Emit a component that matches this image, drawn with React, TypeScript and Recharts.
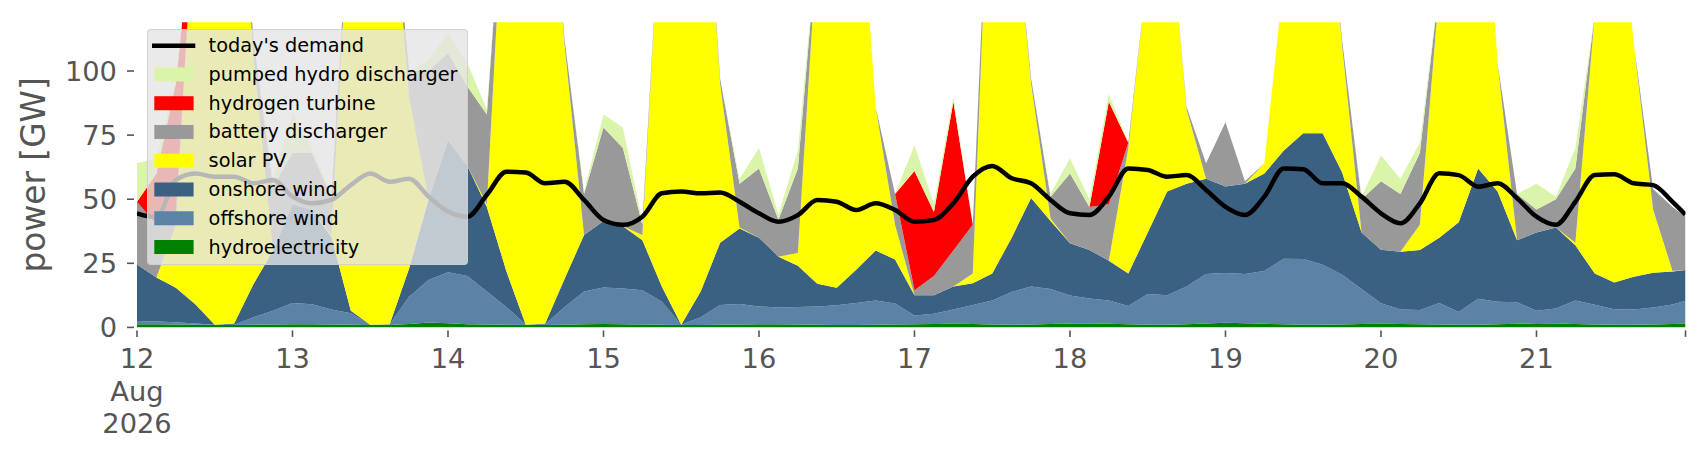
import { Area, ComposedChart, Line, XAxis, YAxis } from 'recharts'

// hours since 12 Aug 00:00, sampled every 3 h, last point 21 Aug 23:00
const HOURS = [...Array.from({ length: 80 }, (_, k) => k * 3), 239]
const DAY_TICKS = [0, 24, 48, 72, 96, 120, 144, 168, 192, 216]
const DAY_LABELS = ['12', '13', '14', '15', '16', '17', '18', '19', '20', '21']
const AXIS_TICKS = [...DAY_TICKS, 239]
const POWER_TICKS = [0, 25, 50, 75, 100]

// GW
const HYDRO = [
  1.2, 1.2, 1.1, 1.0, 0.9, 0.9, 1.0, 1.1, 1.2, 1.2, 1.1, 1.0, 0.9, 0.9, 1.3, 1.9,
  1.6, 1.2, 1.1, 1.0, 0.9, 0.9, 1.0, 1.2, 1.3, 1.2, 1.1, 1.0, 0.9, 0.9, 1.0, 1.1,
  1.2, 1.2, 1.1, 1.0, 0.9, 0.9, 1.0, 1.1, 1.2, 1.3, 1.4, 1.3, 1.1, 1.0, 1.1, 1.3,
  1.5, 1.5, 1.4, 1.2, 1.0, 1.0, 1.2, 1.5, 1.8, 1.6, 1.4, 1.2, 1.0, 1.0, 1.1, 1.3,
  1.4, 1.3, 1.2, 1.1, 1.0, 1.0, 1.2, 1.4, 1.6, 1.5, 1.3, 1.1, 1.0, 1.0, 1.1, 1.3,
  1.4,
]
const OFFSHORE = [
  1.3, 1.1, 0.9, 0.5, 0.1, 0.1, 3, 5.4, 8.3, 7.8, 5.9, 4.5, 0.1, 0.2, 10.7, 16.6,
  19.9, 18.8, 12.9, 7, 0.1, 0.3, 7, 12.8, 14.3, 14, 13.4, 9, 0.1, 3.1, 7.7, 8,
  7, 6.6, 6.9, 7.2, 7.7, 8.6, 9.5, 8.2, 3.4, 4, 5.6, 7.4, 9.4, 12.8, 14.9, 13.7,
  10.9, 9.8, 9.1, 7.1, 12, 11.5, 14.8, 19.3, 19.4, 19.2, 20.6, 25.6, 25.7, 23.4, 19.4, 13.7,
  8, 5.7, 5.6, 8.4, 5, 10.2, 8.8, 8.4, 4.9, 5.9, 9.2, 7.7, 6.1, 6, 6.7, 7.6,
  9,
]
const ONSHORE = [
  22, 17.2, 13.5, 7.5, 0, 0.5, 13, 23.5, 38.5, 36.8, 28.4, 1, 0, 0.1, 11, 31.5,
  51.5, 43, 33, 14, 0, 0.3, 11, 22, 25.9, 24.3, 19.5, 6, 0, 10, 24.3, 29.5,
  26.8, 19.8, 16, 8.8, 6.9, 13, 19.5, 17.2, 7.9, 7.2, 9, 8.5, 10.5, 21.2, 34.5, 26.5,
  20.4, 18.9, 15.5, 12.7, 24, 40.5, 40, 37.2, 33.8, 35.2, 38, 42.2, 49, 51.3, 40, 22,
  20.9, 22.5, 23.4, 25.5, 35, 50.8, 43, 24.2, 30.5, 31.6, 21.5, 12.2, 10.4, 12.8, 13.5, 12.9,
  12,
]
const SOLAR = [
  0, 0, 24.5, 161, 214, 208.5, 88, 0, 0, 0, 0.6, 168.5, 224, 178.8, 67, 0,
  0, 0, 1, 168, 229, 198.5, 91, 0, 0, 0, 2, 159, 224, 196, 62, 0.4,
  0, 0, 5, 133, 199.5, 173.5, 56, 13.5, 0, 0, 0, 3.8, 194, 140, 44.5, 1,
  0, 0, 0, 49, 103, 117, 29, 0, 0, 0, 4, 67, 134.3, 114.3, 49.5, 0,
  0, 0, 9.8, 97, 159, 158, 50, 0, 0, 0, 1, 101, 172.5, 91.2, 24.7, 0.2,
  0,
]
const BATTERY = [
  24.5, 20.5, 5, 0, 0, 0, 7, 25, 20, 22.2, 15, 0, 0, 0, 10, 50,
  34, 31, 35, 0, 0, 0, 2, 16, 36.5, 30.5, 4, 0, 0, 0, 2, 17,
  27, 14.4, 33, 0, 0, 0, 0, 12, 2, 7.5, 14, 19, 0, 0, 2, 8.5,
  27.2, 16.8, 22, 2, 0, 0, 1, 6, 25, 1, 0, 0, 0, 0, 2, 13,
  26.7, 22.5, 28, 1, 0, 0, 0, 18, 9, 11, 29, 0, 0, 0, 8, 25,
  20.8,
]
const HYDROGEN = [
  0, 20, 50, 0, 0, 0, 0, 0, 0, 0, 0, 0, 0, 0, 0, 0,
  0, 0, 0, 0, 0, 0, 0, 0, 0, 0, 0, 0, 0, 0, 0, 0,
  0, 0, 0, 0, 0, 0, 0, 0, 46.5, 25, 58, 0, 0, 0, 0, 0,
  0, 0, 40, 0, 0, 0, 0, 0, 0, 0, 0, 0, 0, 0, 0, 0,
  0, 0, 0, 0, 0, 0, 0, 0, 0, 0, 0, 0, 0, 0, 0, 0,
  0,
]
const PUMPED = [
  15, 6, 2, 0, 0, 0, 0, 3, 16, 2, 1, 0, 0, 0, 0, 4,
  8, 9, 2, 0, 0, 0, 0, 1, 5, 8, 1, 0, 0, 0, 0, 2,
  8, 2, 7, 0, 0, 0, 0, 0, 10, 3, 2, 0, 0, 0, 0, 1,
  6, 3, 3, 0, 0, 0, 0, 0, 0, 0, 0, 0, 0, 0, 0, 1,
  10, 6, 4, 0, 0, 0, 0, 0, 10, 1, 8, 0, 0, 0, 0, 0,
  0,
]
const DEMAND = [
  44.5, 43, 57.5, 60, 58.8, 58.8, 56.2, 57.5, 51, 48.4, 49.7, 55.5, 60, 56.8, 58, 51,
  45.2, 43.2, 51.7, 60.7, 60.4, 56.2, 56.8, 49.7, 41.9, 40, 43.2, 52.3, 53, 52.3, 52.6, 49,
  44.5, 41.2, 43.8, 49.7, 49, 45.8, 48.4, 45.8, 41.2, 41.9, 48.4, 58.8, 63, 58.2, 56.2, 49.7,
  44.5, 43.8, 51, 62, 61.4, 58.8, 59.4, 53.6, 47, 43.8, 51, 62, 61.7, 56.2, 56.2, 51,
  44.5, 40.6, 48.4, 60.1, 59.4, 54.9, 56.2, 50.4, 43.2, 40, 49, 59.4, 59.7, 56.2, 55.5, 49,
  44,
]

// bottom of the stack first
const SERIES = [
  { key: 'hydro', label: 'hydroelectricity', color: '#008000', values: HYDRO },
  { key: 'offshore', label: 'offshore wind', color: '#5b83a6', values: OFFSHORE },
  { key: 'onshore', label: 'onshore wind', color: '#3b6182', values: ONSHORE },
  { key: 'solar', label: 'solar PV', color: '#ffff00', values: SOLAR },
  { key: 'battery', label: 'battery discharger', color: '#999999', values: BATTERY },
  { key: 'hydrogen', label: 'hydrogen turbine', color: '#ff0000', values: HYDROGEN },
  { key: 'pumped', label: 'pumped hydro discharger', color: '#daf5aa', values: PUMPED },
]

const rows = HOURS.map((h, i) => {
  const row: Record<string, number> = { h, demand: DEMAND[i] }
  SERIES.forEach((s) => { row[s.key] = s.values[i] })
  return row
})

const FONT = 'DejaVu Sans'
const GREY = '#555555'

function DayTick({ x, y, payload }: any) {
  const i = DAY_TICKS.indexOf(payload.value)
  return (
    <g>
      <line x1={x} x2={x} y1={y + 3} y2={y + 9.5} stroke={GREY} strokeWidth={1.6} />
      {i >= 0 && (
        <text x={x} y={y + 40.6} textAnchor="middle" fill={GREY} fontSize={27.3} fontFamily={FONT}>
          <tspan x={x}>{DAY_LABELS[i]}</tspan>
          {i === 0 && <tspan x={x} dy={33}>Aug</tspan>}
          {i === 0 && <tspan x={x} dy={32}>2026</tspan>}
        </text>
      )}
    </g>
  )
}

function PowerTick({ x, y, payload }: any) {
  return (
    <g>
      <line x1={x - 10} x2={x - 3} y1={y} y2={y} stroke={GREY} strokeWidth={1.6} />
      <text x={x - 20} y={y} dy="0.36em" textAnchor="end" fill={GREY} fontSize={27.3} fontFamily={FONT}>
        {payload.value}
      </text>
    </g>
  )
}

function PowerLabel({ viewBox }: any) {
  const cx = viewBox.x + 34
  const cy = viewBox.y + viewBox.height / 2
  return (
    <text x={cx} y={cy} transform={`rotate(-90 ${cx} ${cy})`} textAnchor="middle"
      dominantBaseline="central" fill={GREY} fontSize={32.8} fontFamily={FONT}>
      power [GW]
    </text>
  )
}

function LegendBox() {
  const entries = [
    { label: "today's demand", color: '#000000', line: true },
    ...[...SERIES].reverse().map((s) => ({ label: s.label, color: s.color, line: false })),
  ]
  return (
    <div style={{
      position: 'absolute', left: 146.7, top: 29.3, width: 321.6, height: 235.7, boxSizing: 'border-box',
      background: 'rgba(229,229,229,0.8)', border: '1px solid rgba(204,204,204,0.8)', borderRadius: 4,
    }}>
      <svg width={320} height={234} style={{ position: 'absolute', left: -1, top: -1, overflow: 'visible' }}>
        {entries.map((e, i) => {
          const cy = 16.7 + i * 28.76
          return (
            <g key={e.label}>
              {e.line
                ? <line x1={5} x2={48.3} y1={cy} y2={cy} stroke={e.color} strokeWidth={4.5} />
                : <rect x={7.3} y={cy - 7} width={39.3} height={14} fill={e.color} />}
              <text x={61.6} y={cy} dominantBaseline="central" fontSize={19.3} fontFamily={FONT} fill="#000">
                {e.label}
              </text>
            </g>
          )
        })}
      </svg>
    </div>
  )
}

export default function App() {
  return (
    <div style={{ position: 'absolute', left: 0, top: 0, width: 1706, height: 460, background: '#fff', fontFamily: FONT }}>
      <ComposedChart width={1706} height={460} data={rows} margin={{ top: 22.3, right: 20.5, bottom: 0, left: 0 }}>
        <XAxis type="number" dataKey="h" domain={[0, 239]} ticks={AXIS_TICKS} interval={0}
          allowDataOverflow axisLine={false} tickLine={false} tickSize={0} tickMargin={0}
          height={132.6} tick={(p: any) => <DayTick {...p} />} />
        <YAxis type="number" domain={[0, 119]} ticks={POWER_TICKS} interval={0} allowDataOverflow
          axisLine={false} tickLine={false} tickSize={0} tickMargin={0} width={137}
          tick={(p: any) => <PowerTick {...p} />} label={(p: any) => <PowerLabel {...p} />} />
        {SERIES.map((s) => (
          <Area key={s.key} dataKey={s.key} stackId="gen" type="linear" fill={s.color} fillOpacity={1}
            stroke="none" isAnimationActive={false} />
        ))}
        <Line dataKey="demand" type="monotone" stroke="#000" strokeWidth={4.5} dot={false} isAnimationActive={false} />
      </ComposedChart>
      <LegendBox />
    </div>
  )
}
